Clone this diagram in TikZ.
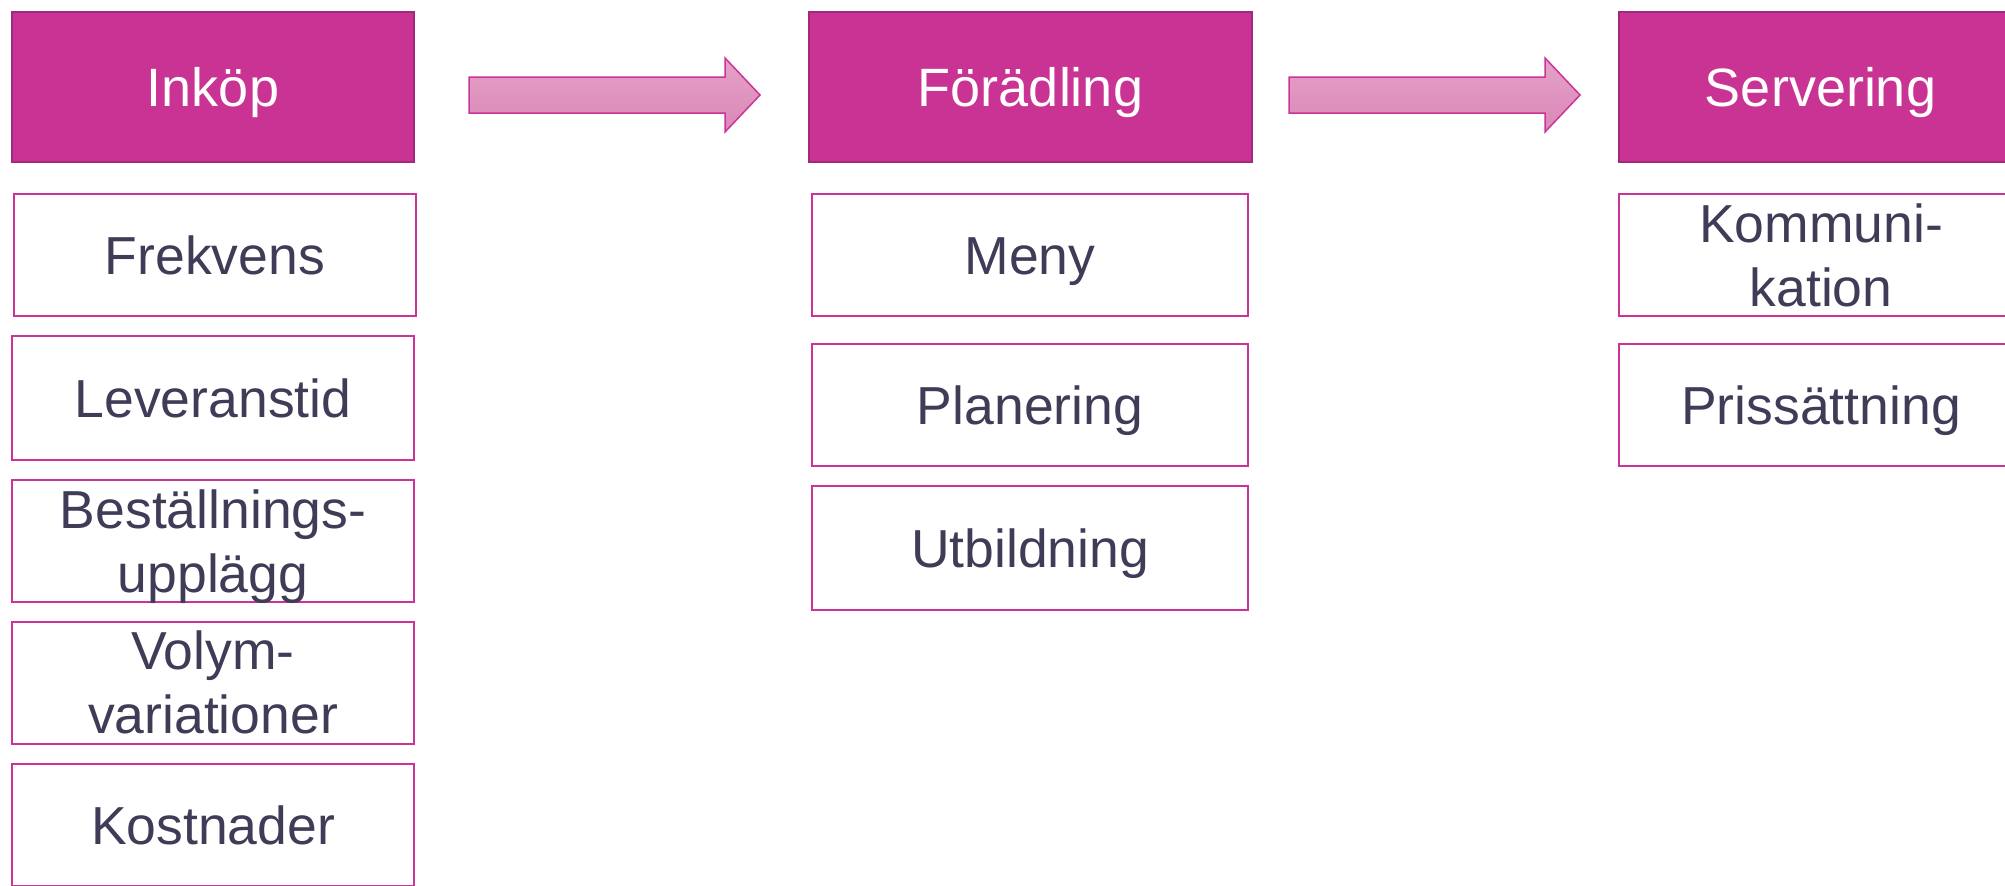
\documentclass[tikz,border=0pt]{standalone}
\usepackage{fontspec}
\setmainfont{Liberation Sans}
\definecolor{hdrfill}{HTML}{C93393}
\definecolor{hdrline}{HTML}{A1287A}
\definecolor{boxline}{HTML}{CC3399}
\definecolor{txtcol}{HTML}{403C57}
\definecolor{arrtop}{HTML}{E4A2C7}
\definecolor{arrbot}{HTML}{DB87B7}
\begin{document}
\begin{tikzpicture}[x=0.5pt,y=-0.5pt,
  hdr/.style={rectangle, draw=hdrline, fill=hdrfill, line width=1pt,
    inner sep=0pt, outer sep=0pt, text=white,
    font=\fontsize{27}{32}\selectfont, text height=19.3pt, text depth=0pt,
    minimum height=75pt},
  box/.style={rectangle, draw=boxline, fill=white, line width=0.85pt,
    inner sep=0pt, outer sep=0pt, text=txtcol,
    font=\fontsize{26.75}{32}\selectfont, minimum width=201pt, minimum height=61pt},
  one/.style={text height=19.15pt, text depth=0pt},
  two/.style={align=center},
  arr/.style={draw=boxline, line width=0.75pt, top color=arrtop, bottom color=arrbot, line join=miter}
]
\useasboundingbox (0,0) rectangle (2005,885);
\clip (0,0) rectangle (2005,885);

% headers
\node[hdr, minimum width=201pt] (h1) at (213,87) {Inköp};
\node[hdr, minimum width=221.5pt] (h2) at (1030.5,87) {Förädling};
\node[hdr, minimum width=201.5pt] (h3) at (1820.5,87) {Servering};

% column 1
\node[box, one] (fre) at (215,255) {Frekvens};
\node[box, one, minimum height=62pt] (lev) at (213,398) {Leveranstid};
\node[box, two] (bes) at (213,540.7) {Beställnings-\\\smash{upplägg}};
\node[box, two] (vol) at (213,682.7) {Volym-\\variationer};
\node[box, one] (kos) at (213,825) {Kostnader};

% column 2
\node[box, one, minimum width=218pt] (men) at (1030,255) {Meny};
\node[box, one, minimum width=218pt] (pla) at (1030,405) {Planering};
\node[box, one, minimum width=218pt, minimum height=62pt] (utb) at (1030,548) {Utbildning};

% column 3
\node[box, two, minimum width=202pt] (kom) at (1821,255) {Kommuni-\\kation};
\node[box, one, minimum width=202pt] (pri) at (1821,405) {Prissättning};

% arrows
\coordinate (a1) at ([xshift=27.5pt,yshift=-4pt]h1.east);
\coordinate (a2) at ([xshift=18.5pt,yshift=-4pt]h2.east);
\foreach \a in {a1,a2}{
  \path[arr] (\a) ++(0,-18) -- ++(256,0) -- ++(0,-19) -- ++(35,37)
    -- ++(-35,37) -- ++(0,-19) -- ++(-256,0) -- cycle;
}
\end{tikzpicture}
\end{document}
